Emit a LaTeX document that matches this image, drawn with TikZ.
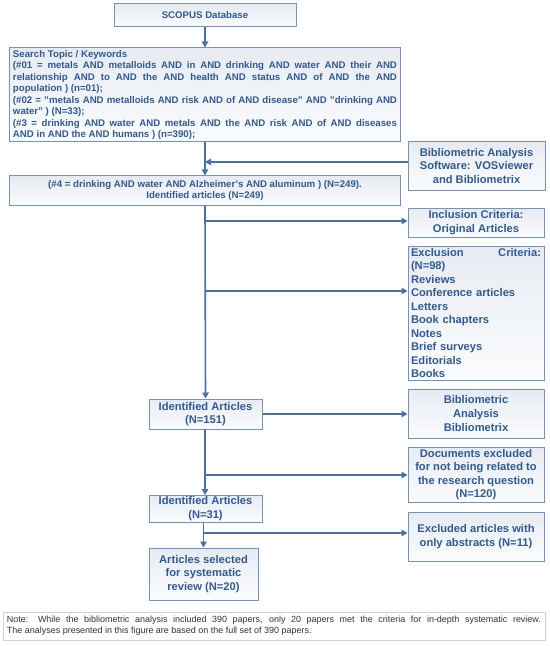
\documentclass[tikz,border=0pt]{standalone}
\usepackage{fontspec}
\setmainfont{Liberation Sans}
\usetikzlibrary{arrows.meta}
\definecolor{tblue}{HTML}{2F5A96}
\definecolor{bord}{HTML}{7393BF}
\definecolor{arr}{HTML}{4A70A6}
\definecolor{shtop}{HTML}{E7EBF1}
\definecolor{shbot}{HTML}{FBFCFD}
\definecolor{notebord}{HTML}{D0D0D0}
\definecolor{notetext}{HTML}{333333}
\begin{document}
\begin{tikzpicture}[x=1bp,y=-1bp,
  box/.style={draw=bord, line width=1bp, top color=shtop, bottom color=shbot,
    text=tblue, inner sep=0pt, font=\bfseries},
  small/.style={font=\fontsize{9.7}{11.5}\selectfont\bfseries},
  big/.style={font=\fontsize{11.2}{13.6}\selectfont\bfseries},
  conn/.style={draw=arr, line width=1.6bp},
  arrow/.style={conn, -{Triangle[length=6bp,width=6.5bp]}}
]
\useasboundingbox (0,0) rectangle (550,646);

% boxes
\node[box, small, minimum width=182bp, minimum height=23bp, align=center] (scopus) at (205,15.5) {SCOPUS Database};

\node[box, small, minimum width=390bp, minimum height=94bp, text width=384bp, align=justify] (search) at (205,95) {Search Topic / Keywords\\
(\#01 = metals AND metalloids AND in AND drinking AND water AND their AND\linebreak
relationship AND to AND the AND health AND status AND of AND the AND\linebreak
population ) (n=01);\\
(\#02 = "metals AND metalloids AND risk AND of AND disease" AND "drinking AND\linebreak
water" ) (N=33);\\
(\#3 = drinking AND water AND metals AND the AND risk AND of AND diseases\linebreak
AND in AND the AND humans ) (n=390);};

\node[box, small, minimum width=390bp, minimum height=29bp, align=center] (q4) at (205,190.5) {(\#4 = drinking AND water AND Alzheimer's AND aluminum ) (N=249).\\Identified articles (N=249)};

\node[box, big, minimum width=137bp, minimum height=48bp, align=center] (soft) at (476.5,166) {Bibliometric Analysis\\Software: VOSviewer\\and Bibliometrix};

\node[box, big, minimum width=136bp, minimum height=29bp, align=center] (incl) at (476,222.5) {Inclusion Criteria:\\Original Articles};

\node[box, big, minimum width=136bp, minimum height=134bp, text width=130bp, align=left] (excl) at (476,313) {\hbox to 130bp{Exclusion\hfill Criteria:}\\(N=98)\\Reviews\\Conference articles\\Letters\\Book chapters\\Notes\\Brief surveys\\Editorials\\Books};

\node[box, big, minimum width=113bp, minimum height=30bp, align=center] (id151) at (205.5,414) {Identified Articles\\(N=151)};

\node[box, big, minimum width=136bp, minimum height=49bp, align=center] (bibx) at (476,413.5) {Bibliometric\\Analysis\\Bibliometrix};

\node[box, big, minimum width=136bp, minimum height=55bp, align=center] (docs) at (476,474.5) {Documents excluded\\for not being related to\\the research question\\(N=120)};

\node[box, big, minimum width=113bp, minimum height=27bp, align=center] (id31) at (205.5,508.5) {Identified Articles\\(N=31)};

\node[box, big, minimum width=136bp, minimum height=49bp, align=center] (exabs) at (476,536.5) {Excluded articles with\\only abstracts (N=11)};

\node[box, big, minimum width=109bp, minimum height=52bp, align=center] (sel) at (203.5,574) {Articles selected\\for systematic\\review (N=20)};

\node[draw=notebord, line width=0.8bp, fill=white, text=notetext, inner sep=0pt,
  minimum width=542bp, minimum height=28bp, text width=534bp, align=justify,
  font=\fontsize{9}{10.8}\selectfont] (note) at (274,626) {Note: While the bibliometric analysis included 390 papers, only 20 papers met the criteria for in-depth systematic review.\linebreak
The analyses presented in this figure are based on the full set of 390 papers.};

% junction coordinates
\coordinate (jsoft) at (205,162);
\coordinate (jincl) at (205,221);
\coordinate (jexcl) at (205,291);
\coordinate (jdocs) at (205,475);
\coordinate (jexabs) at (203.5,533);

% connectors
\draw[arrow] (scopus.south) -- (search.north);
\draw[arrow] (search.south) -- (q4.north);
\draw[arrow] (soft.west |- jsoft) -- (jsoft);
\draw[arrow] (q4.south) -- (id151.north);
\draw[arrow] (jincl) -- (jincl -| incl.west);
\draw[arrow] (jexcl) -- (jexcl -| excl.west);
\draw[arrow] (id151.east) -- (id151.east -| bibx.west);
\draw[arrow] (205,429) -- (205,495);
\draw[arrow] (jdocs) -- (jdocs -| docs.west);
\draw[arrow] (jexabs |- id31.south) -- (jexabs |- sel.north);
\draw[arrow] (jexabs) -- (jexabs -| exabs.west);
\end{tikzpicture}
\end{document}
